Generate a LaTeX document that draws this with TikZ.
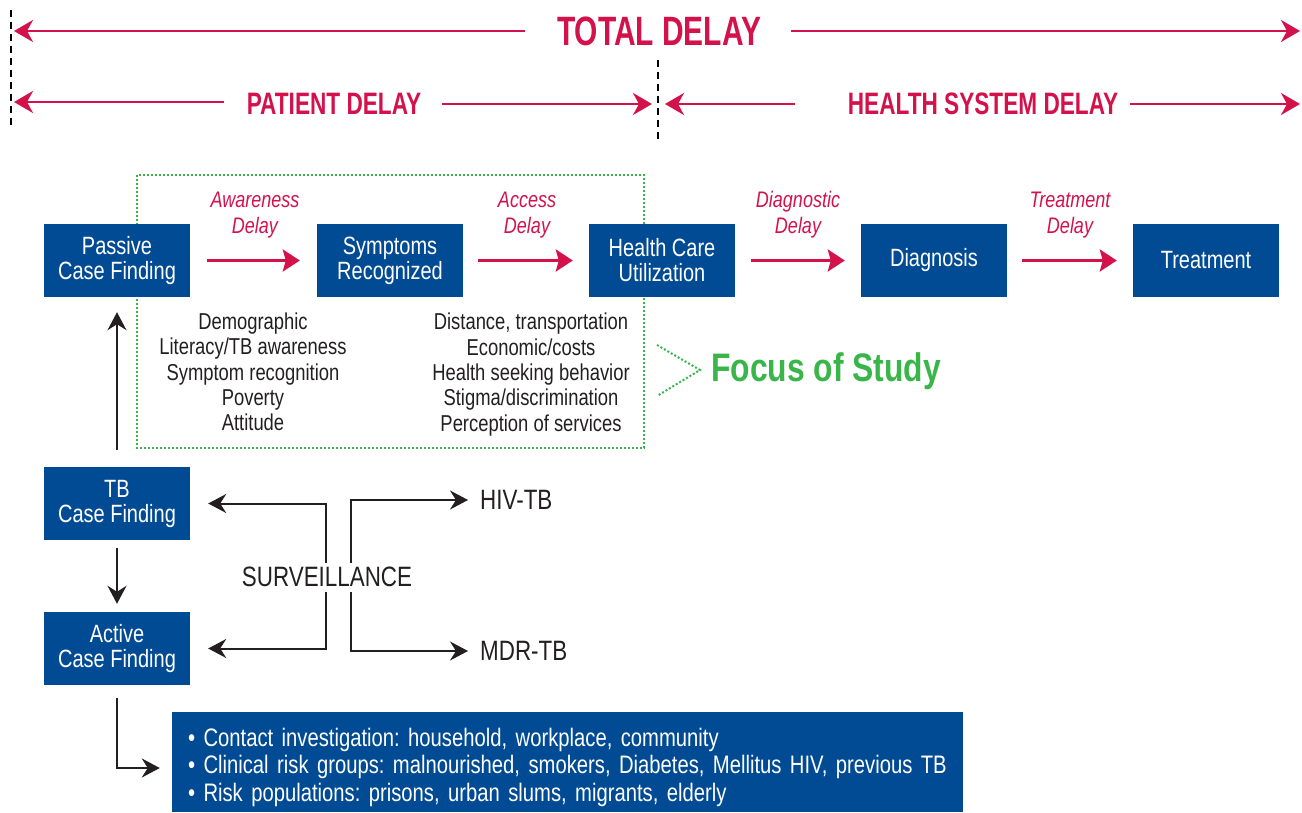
\documentclass[tikz,border=0pt]{standalone}
\usepackage{fontspec}
\setmainfont{Liberation Sans}
\newfontfamily\cnd{Liberation Sans}[FakeStretch=0.8]
\newfontfamily\cndx{Liberation Sans}[FakeStretch=0.73]
\usetikzlibrary{arrows.meta}
\definecolor{boxblue}{HTML}{004B93}
\definecolor{dred}{HTML}{D3124C}
\definecolor{fgreen}{HTML}{3AB54A}
\definecolor{dgray}{HTML}{231F20}
\tikzset{
  bluebox/.style={fill=boxblue,text=white,minimum width=146pt,minimum height=73pt,inner sep=0pt,align=center,font=\cnd\fontsize{25}{25}\selectfont},
  redlbl/.style={text=dred,align=center,inner sep=0pt,font=\cnd\itshape\fontsize{22.5}{26}\selectfont},
  listtxt/.style={text=dgray,align=center,inner sep=0pt,font=\cnd\fontsize{23}{25.3}\selectfont},
  hdr/.style={text=dred,inner sep=0pt,font=\cndx\bfseries\fontsize{31}{31}\selectfont},
  toparr/.style={draw=dred,line width=2.8pt,-{Stealth[length=19pt,width=22pt,inset=6pt]}},
  redarr/.style={draw=dred,line width=3pt,-{Stealth[length=17pt,width=22pt,inset=3pt]}},
  blkarr/.style={draw=dgray,line width=2pt,-{Stealth[length=18pt,width=19pt,inset=6pt]}},
  greendot/.style={draw=fgreen,line width=2pt,dash pattern=on 2pt off 2pt},
  vdash/.style={draw=black,line width=2pt,dash pattern=on 7pt off 5pt},
  plain/.style={text=dgray,inner sep=0pt,font=\cnd\fontsize{28}{28}\selectfont}
}
\begin{document}
\begin{tikzpicture}[x=1pt,y=-1pt]
\useasboundingbox (0,0) rectangle (1302,813);
% header
\draw[vdash] (11,10) -- (11,125);
\draw[vdash] (658,60) -- (658,140);
\node[hdr,font=\cndx\bfseries\fontsize{41}{41}\selectfont] (total) at (659,31) {TOTAL DELAY};
\coordinate (tl) at (14,31);
\coordinate (tr) at (1300,31);
\draw[toparr] ([xshift=-32pt]total.west) -- (tl);
\draw[toparr] ([xshift=30pt]total.east) -- (tr);
\node[hdr] (pat) at (334,104) {PATIENT DELAY};
\coordinate (pl) at (14,102);
\coordinate (pr) at (652,104);
\draw[toparr] ([xshift=-23pt,yshift=2pt]pat.west) -- (pl);
\draw[toparr] ([xshift=21pt]pat.east) -- (pr);
\node[hdr] (hsd) at (983,104) {HEALTH SYSTEM DELAY};
\coordinate (hl) at (665,104);
\coordinate (hr) at (1300,104);
\draw[toparr] ([xshift=-53pt]hsd.west) -- (hl);
\draw[toparr] ([xshift=12pt]hsd.east) -- (hr);
% focus box
\draw[greendot] (137,175) rectangle (644,448);
\draw[greendot] (657,345) -- (700,370) -- (657,396);
\node[anchor=west,text=fgreen,inner sep=0pt,font=\cnd\bfseries\fontsize{39.8}{39.8}\selectfont] (focus) at (711,371) {Focus of Study};
% flow
\node[bluebox] (pcf) at (117,260.5) {Passive\\Case Finding};
\node[bluebox] (sr) at (390,260.5) {Symptoms\\Recognized};
\node[bluebox] (hcu) at (662,260.5) {Health Care\\Utilization};
\node[bluebox] (dia) at (934,260.5) {Diagnosis};
\node[bluebox] (trt) at (1206,260.5) {Treatment};
\draw[redarr] ([xshift=17pt]pcf.east) -- ([xshift=-17pt]sr.west);
\draw[redarr] ([xshift=15pt]sr.east) -- ([xshift=-16pt]hcu.west);
\draw[redarr] ([xshift=16pt]hcu.east) -- ([xshift=-16pt]dia.west);
\draw[redarr] ([xshift=15pt]dia.east) -- ([xshift=-16pt]trt.west);
\node[redlbl] (l1) at (255,215) {Awareness\\Delay};
\node[redlbl] (l2) at (527,215) {Access\\Delay};
\node[redlbl] (l3) at (798,215) {Diagnostic\\Delay};
\node[redlbl] (l4) at (1070,215) {Treatment\\Delay};
\node[listtxt] (f1) at (253,372) {Demographic\\Literacy/TB awareness\\Symptom recognition\\Poverty\\Attitude};
\node[listtxt] (f2) at (531,374.5) {Distance, transportation\\Economic/costs\\Health seeking behavior\\Stigma/discrimination\\Perception of services};
% case finding
\node[bluebox] (tbcf) at (117,503.5) {TB\\Case Finding};
\node[bluebox] (acf) at (117,648.5) {Active\\Case Finding};
\draw[blkarr] ([yshift=17pt]tbcf.north) -- ([yshift=-15pt]pcf.south);
\draw[blkarr] ([yshift=-8pt]tbcf.south) -- ([yshift=8pt]acf.north);
\node[plain] (surv) at (327,577) {SURVEILLANCE};
\node[plain,anchor=west] (hiv) at (480,500) {HIV-TB};
\node[plain,anchor=west] (mdr) at (480,651) {MDR-TB};
\coordinate (s1) at (326,563);
\coordinate (s2) at (351,563);
\coordinate (s3) at (326,592);
\coordinate (s4) at (351,592);
\draw[blkarr] (s1) |- ([xshift=18pt]tbcf.east);
\draw[blkarr] (s2) |- ([xshift=-12pt]hiv.west);
\draw[blkarr] (s3) |- ([xshift=18pt]acf.east);
\draw[blkarr] (s4) |- ([xshift=-12pt]mdr.west);
% bullets
\node[fill=boxblue,text=white,minimum width=791pt,minimum height=100pt,inner xsep=16pt,inner ysep=0pt,align=left,text width=759pt,font=\frenchspacing\cnd\fontsize{25.3}{27.5}\selectfont] (bul) at (567.5,762) {\rule{0pt}{29pt}\textbullet\ Contact investigation: household, workplace, community\\\textbullet\ Clinical risk groups: malnourished, smokers, Diabetes, Mellitus HIV, previous TB\\\textbullet\ Risk populations: prisons, urban slums, migrants, elderly};
\draw[blkarr] ([yshift=-13pt]acf.south) |- ([xshift=-12pt,yshift=-6pt]bul.west);
\end{tikzpicture}
\end{document}
